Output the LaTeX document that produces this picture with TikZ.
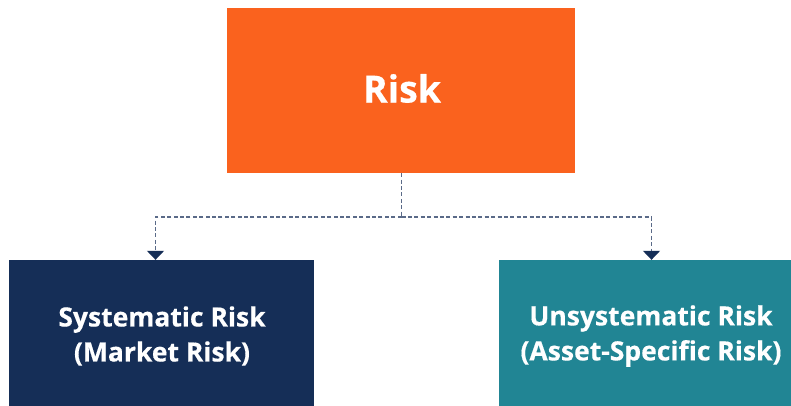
\documentclass[tikz,border=0pt]{standalone}
\usepackage{fontspec}
\setmainfont[BoldFeatures={FakeBold=0.4}]{Open Sans}
\usetikzlibrary{arrows.meta}
\definecolor{riskorange}{HTML}{FA621E}
\definecolor{sysnavy}{HTML}{152E57}
\definecolor{unsysteal}{HTML}{218594}
\definecolor{linkgray}{HTML}{5A6A88}
\begin{document}
\begin{tikzpicture}[x=1pt,y=-1pt,
  box/.style={draw=none, inner sep=0pt, text=white, align=center,
    font=\bfseries\fontsize{26.5}{35}\selectfont},
  link/.style={draw=linkgray, line width=1.3pt, dash pattern=on 4pt off 2.4pt},
  tip/.style={-{Triangle[width=17pt,length=9pt,fill=sysnavy,color=sysnavy]}}]
  \fill[white] (0,0) rectangle (791,406);
  \useasboundingbox (0,0) rectangle (791,406);
  % top box and its title
  \node[box, fill=riskorange, minimum width=348pt, minimum height=165pt] (risk) at (401,90.5) {};
  \node[text=white, inner sep=0pt, font=\bfseries\fontsize{37.5}{42}\selectfont]
        (risklabel) at (402,88.5) {Risk};
  % the two kinds of risk
  \node[box, fill=sysnavy, minimum width=305pt, minimum height=146pt]
        (sys) at (161.5,333) {};
  \node[box] (syslabel) at (162,336) {Systematic Risk\\(Market Risk)};
  \node[box, fill=unsysteal, minimum width=305pt, minimum height=146pt]
        (unsys) at (651.5,333) {};
  \node[box] (unsyslabel) at (651,336) {Unsystematic Risk\\(Asset-Specific Risk)};
  % dashed connectors
  \coordinate (split) at (401.5,217);
  \draw[link] (risk.south -| split) -- (split);
  \draw[link, tip] (split) -| ([xshift=-6pt]sys.north);
  \draw[link, tip] (split) -| (unsys.north);
\end{tikzpicture}
\end{document}
